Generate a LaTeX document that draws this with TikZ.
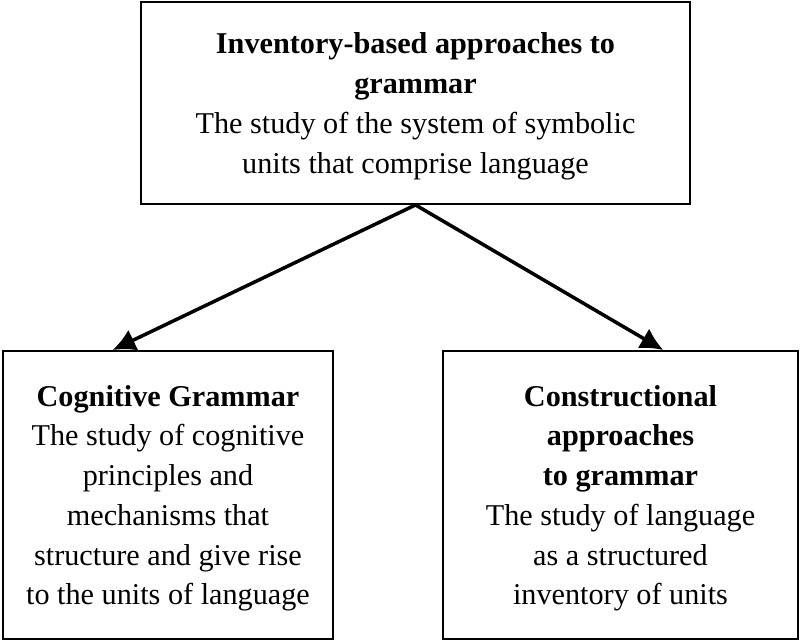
\documentclass[tikz,border=0pt]{standalone}
\usepackage{fontspec}
\setmainfont{Liberation Serif}
\usepackage{tikz}
\usetikzlibrary{arrows.meta,positioning,calc}
\tikzstyle{boite}=[draw, line width=1.1pt, align=center, inner sep=0pt,
font=\fontsize{17.2}{22.6}\selectfont, text depth=-8pt]
\tikzstyle{haut} = [boite, minimum width=10.98cm, minimum height=4.04cm]
\tikzstyle{bas} = [boite, minimum height=5.76cm]
\tikzstyle{line} = [draw, line width=2pt, -{Latex[length=13pt,width=13pt]}]
\newcommand{\cadre}[3]{node (p#1)[#2]{#3}}

\begin{document}
\begin{tikzpicture}[x=0.02cm,y=-0.02cm]
	\useasboundingbox (0,0) rectangle (800,641);

	% Draw diagram elements
	\path (415.5,103) \cadre{1}{haut}{\textbf{Inventory-based approaches to}\\
		\textbf{grammar}\\ The study of the system of symbolic\\ units that comprise language};

	\path (168,495) \cadre{2}{bas, minimum width=6.6cm}{\textbf{Cognitive Grammar}\\ The study of cognitive\\
		principles and\\ mechanisms that\\ structure and give rise\\ to the units of language};
	\path (620.5,495) \cadre{3}{bas, minimum width=7.1cm}{\textbf{Constructional}\\ \textbf{approaches}\\
		\textbf{to grammar}\\ The study of language\\ as a structured\\ inventory of units};

	% Draw arrows between elements
	\path [line] (p1.south) -- ($(p2.north west)!0.333!(p2.north east)$);
	\path [line] (p1.south) -- ($(p3.north west)!0.62!(p3.north east)$);
\end{tikzpicture}
\end{document}
